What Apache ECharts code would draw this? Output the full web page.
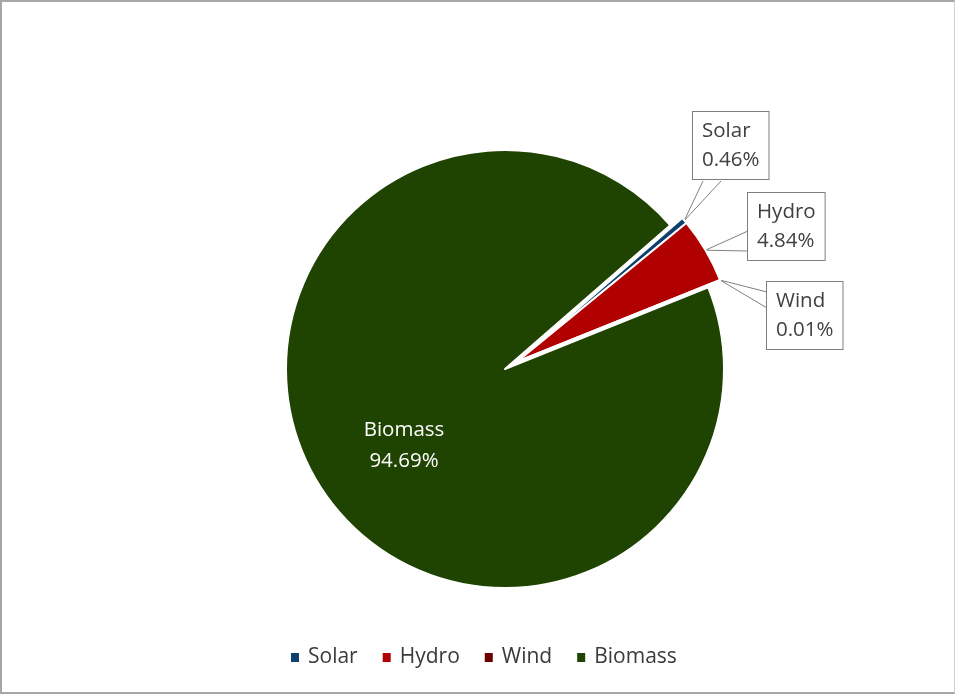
<!DOCTYPE html>
<html>
<head>
<meta charset="utf-8">
<script src="https://cdn.jsdelivr.net/npm/echarts@6/dist/echarts.min.js"></script>
<style>
  html, body { margin: 0; padding: 0; background: #fff; }
  #frame { position: absolute; left: 0; top: 0; width: 952px; height: 690px; border: 2px solid #a6a6a6; border-right: 1px solid #d0d0d0; pointer-events: none; }
  #chart { width: 956px; height: 694px; position: absolute; left: 0; top: 0; }
</style>
</head>
<body>
<div id="chart"></div>
<div id="frame"></div>
<script>
// Share of renewable generation by source (%)
const sources = ['Solar', 'Hydro', 'Wind', 'Biomass'];
const shares = [0.46, 4.84, 0.01, 94.69];
const sourceColors = ['#0e3f6f', '#b00000', '#6a0000', '#1f4300'];
// The small sources are pulled out of the pie as one group
const exploded = [true, true, true, false];

// Pie geometry
const PIE_CENTER = [505, 369];
const PIE_RADIUS = 219;
const START_ANGLE = 41;
const EXPLODE_DIST = 14;
const EXPLODE_DIR = 31; // degrees, counter-clockwise from 3 o'clock

// Callout boxes: top-left corner, and which side the pointer wedge leaves from
// (base given as offsets along that side, px)
const callouts = {
  Solar: { x: 693, y: 112, side: 'bottom', base: [10, 28] },
  Hydro: { x: 748, y: 193, side: 'left', base: [38, 58] },
  Wind:  { x: 767, y: 282, side: 'left', base: [10, 26] }
};

const FONT = '"Open Sans", "Noto Sans", sans-serif';

const chart = echarts.init(document.getElementById('chart'), null, { renderer: 'canvas' });

const hiddenSlice = {
  itemStyle: { color: 'transparent', borderWidth: 0 },
  label: { show: false },
  labelLine: { show: false },
  emphasis: { disabled: true }
};

// One pie for the pulled-out slices, one for the rest; both share the same angles
function buildData(wantExploded) {
  return sources.map((name, i) => {
    if (exploded[i] !== wantExploded) {
      return Object.assign({ name: 'gap-' + name, value: shares[i] }, hiddenSlice);
    }
    const item = { name: name, value: shares[i], itemStyle: { color: sourceColors[i] } };
    if (!wantExploded) {
      item.label = {
        position: 'inside',
        color: '#ffffff',
        backgroundColor: 'transparent',
        borderWidth: 0,
        padding: 0,
        lineHeight: 31,
        align: 'center'
      };
      item.labelLine = { show: false };
    }
    return item;
  });
}

const rad = EXPLODE_DIR * Math.PI / 180;
const explodedCenter = [
  PIE_CENTER[0] + EXPLODE_DIST * Math.cos(rad),
  PIE_CENTER[1] - EXPLODE_DIST * Math.sin(rad)
];

const baseSeries = {
  type: 'pie',
  radius: PIE_RADIUS,
  startAngle: START_ANGLE,
  clockwise: true,
  avoidLabelOverlap: false,
  minAngle: 0,
  emphasis: { disabled: true },
  itemStyle: { borderColor: '#ffffff', borderWidth: 2 },
  label: {
    show: true,
    fontFamily: FONT,
    fontSize: 20.5,
    color: '#404040',
    backgroundColor: '#ffffff',
    borderColor: '#7f7f7f',
    borderWidth: 1,
    padding: [5, 9, 4, 9],
    lineHeight: 29,
    align: 'center',
    formatter: p => p.name + '\n' + p.value.toFixed(2) + '%'
  },
  labelLine: {
    show: true,
    length: 10,
    length2: 10,
    lineStyle: { color: '#7f7f7f', width: 1 }
  }
};

chart.setOption({
  animation: false,
  backgroundColor: '#ffffff',
  legend: {
    bottom: 21,
    left: 284,
    itemWidth: 10,
    itemHeight: 11,
    itemGap: 23,
    icon: 'rect',
    selectedMode: false,
    textStyle: { fontFamily: FONT, fontSize: 21, color: '#3a3a3a', padding: [0, 0, 0, 3] },
    data: sources
  },
  series: [
    Object.assign({}, baseSeries, {
      name: 'small sources',
      center: explodedCenter,
      labelLayout: function (params) {
        const c = callouts[sources[params.dataIndex]];
        if (!c) return {};
        const h = params.labelRect.height;
        const out = { x: c.x, y: c.y, align: 'left', verticalAlign: 'top' };
        const tip = params.labelLinePoints ? params.labelLinePoints[0] : null;
        if (tip) {
          let p1, p2;
          if (c.side === 'bottom') {
            p1 = [c.x + c.base[0], c.y + h];
            p2 = [c.x + c.base[1], c.y + h];
          } else {
            p1 = [c.x, c.y + c.base[0]];
            p2 = [c.x, c.y + c.base[1]];
          }
          out.labelLinePoints = [p1, tip, p2];
        }
        return out;
      },
      data: buildData(true)
    }),
    Object.assign({}, baseSeries, {
      name: 'biomass',
      center: PIE_CENTER,
      labelLayout: function (params) {
        if (sources[params.dataIndex] !== 'Biomass') return {};
        return { x: 404, y: 446, align: 'center', verticalAlign: 'middle' };
      },
      data: buildData(false)
    })
  ]
});
</script>
</body>
</html>
